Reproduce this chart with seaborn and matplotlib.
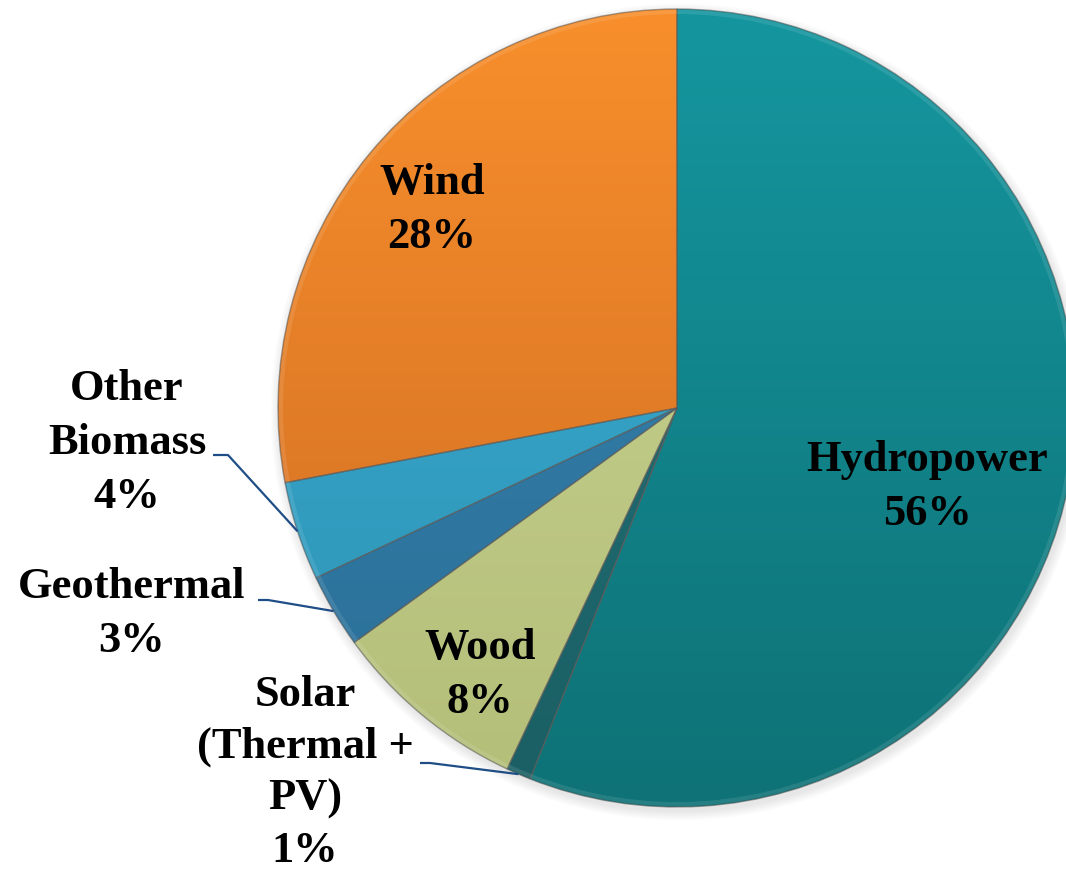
import numpy as np
import matplotlib
matplotlib.use("Agg")
import matplotlib.pyplot as plt
from matplotlib.colors import LinearSegmentedColormap
from matplotlib.patches import Circle, Wedge
import seaborn as sns

# Renewable energy sources, share of total (%)
sources = ["Hydropower", "Solar", "Wood", "Geothermal", "Other Biomass", "Wind"]
shares = [56, 1, 8, 3, 4, 28]
label_text = ["Hydropower\n56%", "Solar\n(Thermal +\nPV)\n1%", "Wood\n8%",
              "Geothermal\n3%", "Other\nBiomass\n4%", "Wind\n28%"]

# (top colour, bottom colour) for each slice's shading
top_colors = ["#15969F", "#23757B", "#CBD595", "#3785B0", "#3BADD0", "#F88F2C"]
bot_colors = ["#0E7276", "#1A5F64", "#B3BE78", "#2A6E97", "#2D93B6", "#CC6A22"]

sns.set_theme(style="white")
plt.rcParams["font.family"] = ["Liberation Serif", "DejaVu Serif"]

W, H = 1066, 874
fig = plt.figure(figsize=(W / 100, H / 100), dpi=100)
ax = fig.add_axes([0, 0, 1, 1])

cx, cy, R = 677, H - 408, 399

# faint drop shadow beneath the pie
for i in range(8):
    ax.add_patch(Circle((cx + 2, cy - 4), R + 1 + i * 1.2, color="black",
                        alpha=0.012, lw=0, zorder=0))

wedges, _ = ax.pie(shares, startangle=90, counterclock=False, center=(cx, cy),
                   radius=R, colors=bot_colors,
                   wedgeprops=dict(edgecolor=(0.35, 0.35, 0.35, 0.55), linewidth=1.0))

# vertical gradient fill clipped to each slice
grad = np.linspace(0, 1, 256).reshape(-1, 1)
for w, c0, c1 in zip(wedges, bot_colors, top_colors):
    cmap = LinearSegmentedColormap.from_list("g", [c0, c1])
    im = ax.imshow(grad, cmap=cmap, origin="lower", aspect="auto",
                   extent=(cx - R, cx + R, cy - R, cy + R), zorder=1.5,
                   interpolation="bilinear")
    im.set_clip_path(w)
    w.set_zorder(2)
    w.set_facecolor("none")

# bevel highlight along the rim
for w in wedges:
    ax.add_patch(Wedge((cx, cy), R - 1, w.theta1, w.theta2, width=4,
                       facecolor="white", alpha=0.10, lw=0, zorder=2.5))

fs = 32
txt = dict(fontsize=fs, fontweight="bold", color="black", ha="center",
           va="center", linespacing=1.45, zorder=5)

# labels inside the larger slices
ax.text(927, H - 487, label_text[0], **txt)
ax.text(432, H - 210, label_text[5], **txt)
ax.text(480, H - 675, label_text[2], **txt)

# outside labels with leader lines: (text anchor, valign, spacing, line start, elbow)
outside = {
    4: ((127, H - 443), "center", 1.45, (213, H - 455), (228, H - 455)),
    3: ((132, H - 614), "center", 1.45, (258, H - 600), (268, H - 600)),
    1: ((305, 3), "bottom", 1.38, (420, H - 763), (430, H - 763)),
}
for idx, (tpos, va, ls, p0, p1) in outside.items():
    ax.text(tpos[0], tpos[1], label_text[idx],
            **{**txt, "va": va, "linespacing": ls})
    w = wedges[idx]
    mid = np.deg2rad((w.theta1 + w.theta2) / 2)
    ex, ey = cx + R * np.cos(mid), cy + R * np.sin(mid)
    ax.plot([p0[0], p1[0], ex], [p0[1], p1[1], ey], color="#1F4E86",
            lw=1.6, zorder=4, solid_capstyle="butt")

ax.set_xlim(0, W)
ax.set_ylim(0, H)
ax.set_aspect("equal")
ax.axis("off")

fig.savefig("out.png", dpi=100, facecolor="white")
